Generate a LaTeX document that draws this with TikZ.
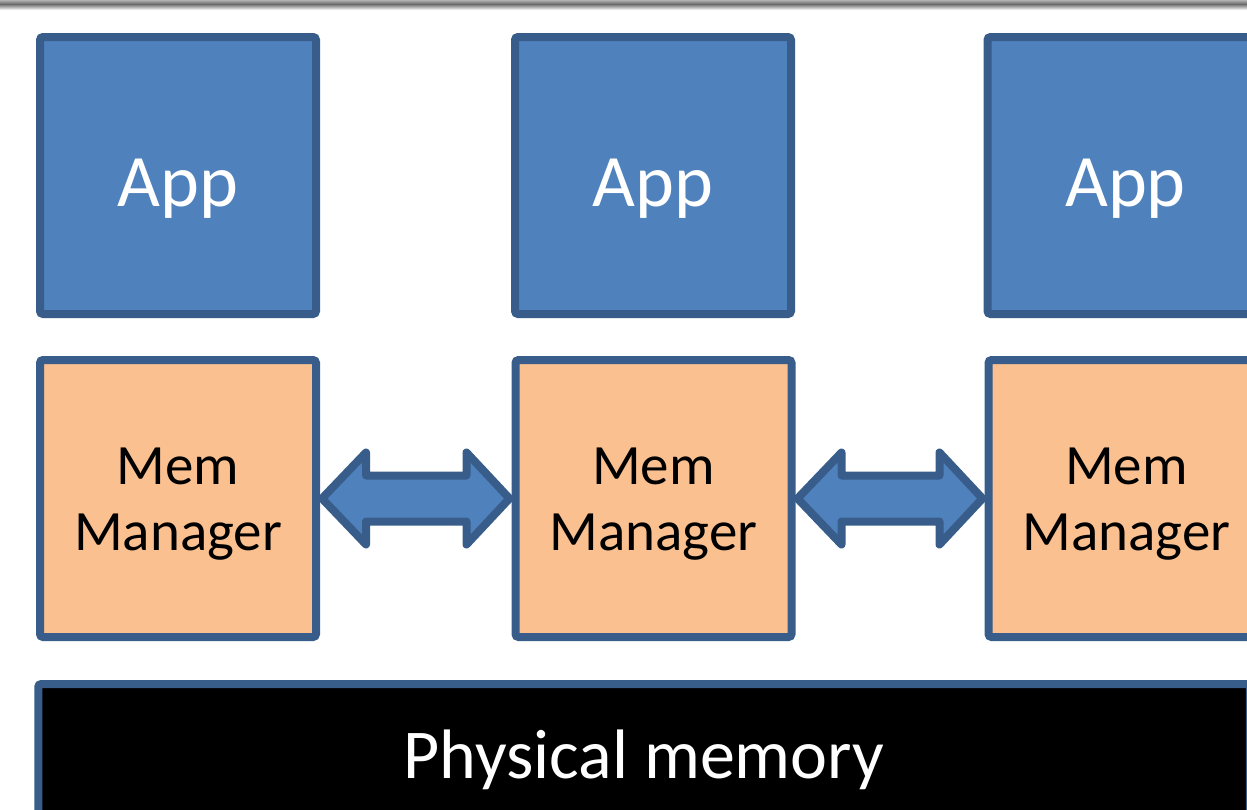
\documentclass[tikz,border=0pt]{standalone}
\usepackage{fontspec}
\setmainfont{Carlito}
\usetikzlibrary{calc}
\definecolor{appfill}{HTML}{4F81BD}
\definecolor{edgeblue}{HTML}{385D8A}
\definecolor{memfill}{HTML}{FAC090}
\definecolor{shadeA}{HTML}{B0B0B0}
\definecolor{shadeB}{HTML}{6A6A6A}
% double-headed block arrow between the facing sides of two nodes
\newcommand\twowayarrow[2]{%
  \coordinate (l) at ($(#1.east)+(6,0)$);
  \coordinate (r) at ($(#2.west)+(-6,0)$);
  \draw[link] (l) -- ($(l)+(44,-46)$) -- ($(l)+(44,-23)$)
    -- ($(r)+(-43,-23)$) -- ($(r)+(-43,-46)$) -- (r)
    -- ($(r)+(-43,46)$) -- ($(r)+(-43,23)$)
    -- ($(l)+(44,23)$) -- ($(l)+(44,46)$) -- cycle;}
\begin{document}
\begin{tikzpicture}[x=0.5pt,y=-0.5pt,
  box/.style={draw=edgeblue, line width=4pt, rounded corners=1.5pt,
    minimum width=138pt, minimum height=138.5pt, inner sep=0pt, outer sep=0pt},
  app/.style={box, fill=appfill},
  mem/.style={box, fill=memfill},
  apptext/.style={text=white, font=\fontsize{37}{44}\selectfont, anchor=base, inner sep=0pt},
  memtext/.style={text=black, font=\fontsize{28.5}{34}\selectfont, anchor=base, inner sep=0pt},
  link/.style={draw=edgeblue, fill=appfill, line width=4pt, line join=round}]
\useasboundingbox (0,0) rectangle (1247,809);
\begin{scope}
\clip (0,0) rectangle (1247,809);
% slide-edge shadow along the top
\shade[top color=shadeA, bottom color=shadeB] (0,0) rectangle (1247,4);
\shade[top color=shadeB, bottom color=white] (0,4) rectangle (1247,10);

% applications
\node[app] (a1) at (178,175.5) {};
\node[app] (a2) at (653,175.5) {};
\node[app] (a3) at (1125.5,175.5) {};
\node[apptext] (ta1) at ($(a1.center)+(0,31)$) {App};
\node[apptext] (ta2) at ($(a2.center)+(0,31)$) {App};
\node[apptext] (ta3) at ($(a3.center)+(0,31)$) {App};

% memory managers
\node[mem] (m1) at (178,498.5) {};
\node[mem] (m2) at (653.5,498.5) {};
\node[mem] (m3) at (1126.5,498.5) {};
\foreach \m in {m1,m2,m3}{
  \node[memtext] (\m-a) at ($(\m.center)+(0,-14.5)$) {Mem};
  \node[memtext] (\m-b) at ($(\m.center)+(0,51.5)$) {Manager};
}

% links between managers
\twowayarrow{m1}{m2}
\twowayarrow{m2}{m3}

% physical memory
\node[draw=edgeblue, fill=black, line width=4pt, rounded corners=1.5pt,
  minimum width=605.75pt, minimum height=76pt, inner sep=0pt, outer sep=0pt] (phys) at (644,760) {};
\node[text=white, font=\fontsize{35}{42}\selectfont, anchor=base, inner sep=0pt]
  (tphys) at ($(phys.center)+(0,18)$) {Physical memory};
\end{scope}
\end{tikzpicture}
\end{document}
